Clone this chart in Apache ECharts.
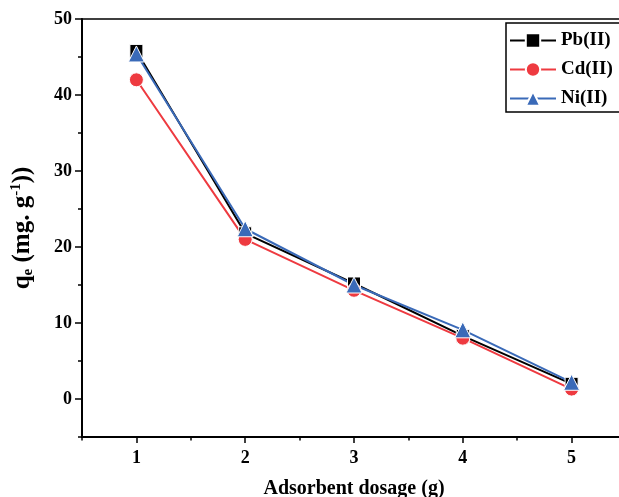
<!DOCTYPE html>
<html>
<head>
<meta charset="utf-8">
<script src="https://cdn.jsdelivr.net/npm/echarts@6/dist/echarts.min.js"></script>
<style>
  html, body { margin: 0; padding: 0; background: #fff; }
  #chart { width: 619px; height: 497px; }
</style>
</head>
<body>
<div id="chart"></div>
<script>
// Adsorbent dosage (g) and equilibrium uptake q_e (mg/g) for each metal ion
const dosage = [1, 2, 3, 4, 5];
const pb = [45.8, 21.8, 15.2, 8.3, 2.0];
const cd = [42.0, 21.0, 14.3, 8.0, 1.3];
const ni = [45.4, 22.4, 15.0, 9.1, 2.2];

const xLabels = [1, 2, 3, 4, 5];
const xMinorTicks = [0.5, 1.5, 2.5, 3.5, 4.5, 5.5];
const yLabels = [0, 10, 20, 30, 40, 50];
const yMinorTicks = [-5, 5, 15, 25, 35, 45];

const FONT = '"Liberation Serif", "Times New Roman", serif';
const pairs = vals => dosage.map((d, i) => [d, vals[i]]);

const chart = echarts.init(document.getElementById('chart'), null, { renderer: 'canvas' });

const line = (name, vals, color, symbol, size) => ({
  name, type: 'line', data: pairs(vals), symbol, symbolSize: size,
  xAxisIndex: 0, yAxisIndex: 0,
  lineStyle: { color, width: 2 },
  itemStyle: { color, borderColor: '#fff', borderWidth: 1 },
  emphasis: { disabled: true }, animation: false
});

chart.setOption({
  backgroundColor: '#fff',
  animation: false,
  grid: {
    left: 82, top: 19, width: 544, height: 418,
    outerBoundsMode: 'none', containLabel: false,
    show: true, borderColor: '#000', borderWidth: 1.5, backgroundColor: 'transparent'
  },
  legend: {
    orient: 'vertical', left: 506, top: 23,
    itemWidth: 46, itemHeight: 18, itemGap: 10,
    padding: [8, 10, 4, 3],
    borderColor: '#000', borderWidth: 1.5, backgroundColor: '#fff',
    textStyle: { fontFamily: FONT, fontWeight: 'bold', fontSize: 19, color: '#000' },
    data: ['Pb(II)', 'Cd(II)', 'Ni(II)']
  },
  xAxis: [
    {
      type: 'value', min: 0.5, max: 5.5,
      name: 'Adsorbent dosage (g)', nameLocation: 'middle', nameGap: 42,
      nameTextStyle: { fontFamily: FONT, fontWeight: 'bold', fontSize: 20, color: '#000' },
      axisLine: { show: true, onZero: false, lineStyle: { color: '#000', width: 2 } },
      axisTick: { show: true, length: 6, lineStyle: { color: '#000', width: 1.5 }, customValues: xLabels },
      axisLabel: { margin: 12, fontFamily: FONT, fontWeight: 'bold', fontSize: 18, color: '#000', customValues: xLabels },
      splitLine: { show: false }
    },
    {
      type: 'value', min: 0.5, max: 5.5, position: 'bottom',
      axisLine: { show: false, onZero: false },
      axisTick: { show: true, length: 3.5, lineStyle: { color: '#000', width: 1.5 }, customValues: xMinorTicks },
      axisLabel: { show: false },
      splitLine: { show: false }
    }
  ],
  yAxis: [
    {
      type: 'value', min: -5, max: 50,
      name: '{q|q}{sub|e}{q| (mg. g}{sup|-1}{q|))}',
      nameLocation: 'middle', nameGap: 46, nameRotate: 90,
      nameTextStyle: {
        fontFamily: FONT, fontWeight: 'bold', fontSize: 25, color: '#000',
        rich: {
          q: { fontFamily: FONT, fontWeight: 'bold', fontSize: 25, color: '#000' },
          sub: { fontFamily: FONT, fontWeight: 'bold', fontSize: 15, color: '#000', verticalAlign: 'bottom', padding: [12, 0, 0, 0] },
          sup: { fontFamily: FONT, fontWeight: 'bold', fontSize: 15, color: '#000', verticalAlign: 'top', padding: [0, 0, 10, 0] }
        }
      },
      axisLine: { show: true, onZero: false, lineStyle: { color: '#000', width: 2 } },
      axisTick: { show: true, length: 7, lineStyle: { color: '#000', width: 1.5 }, customValues: yLabels },
      axisLabel: { margin: 10, fontFamily: FONT, fontWeight: 'bold', fontSize: 18, color: '#000', customValues: yLabels },
      splitLine: { show: false }
    },
    {
      type: 'value', min: -5, max: 50, position: 'left',
      axisLine: { show: false, onZero: false },
      axisTick: { show: true, length: 4, lineStyle: { color: '#000', width: 1.5 }, customValues: yMinorTicks },
      axisLabel: { show: false },
      splitLine: { show: false }
    }
  ],
  series: [
    line('Pb(II)', pb, '#000000', 'rect', 13),
    line('Cd(II)', cd, '#ee3a40', 'circle', 14),
    line('Ni(II)', ni, '#3a6ab8', 'triangle', 16)
  ]
});
</script>
</body>
</html>
